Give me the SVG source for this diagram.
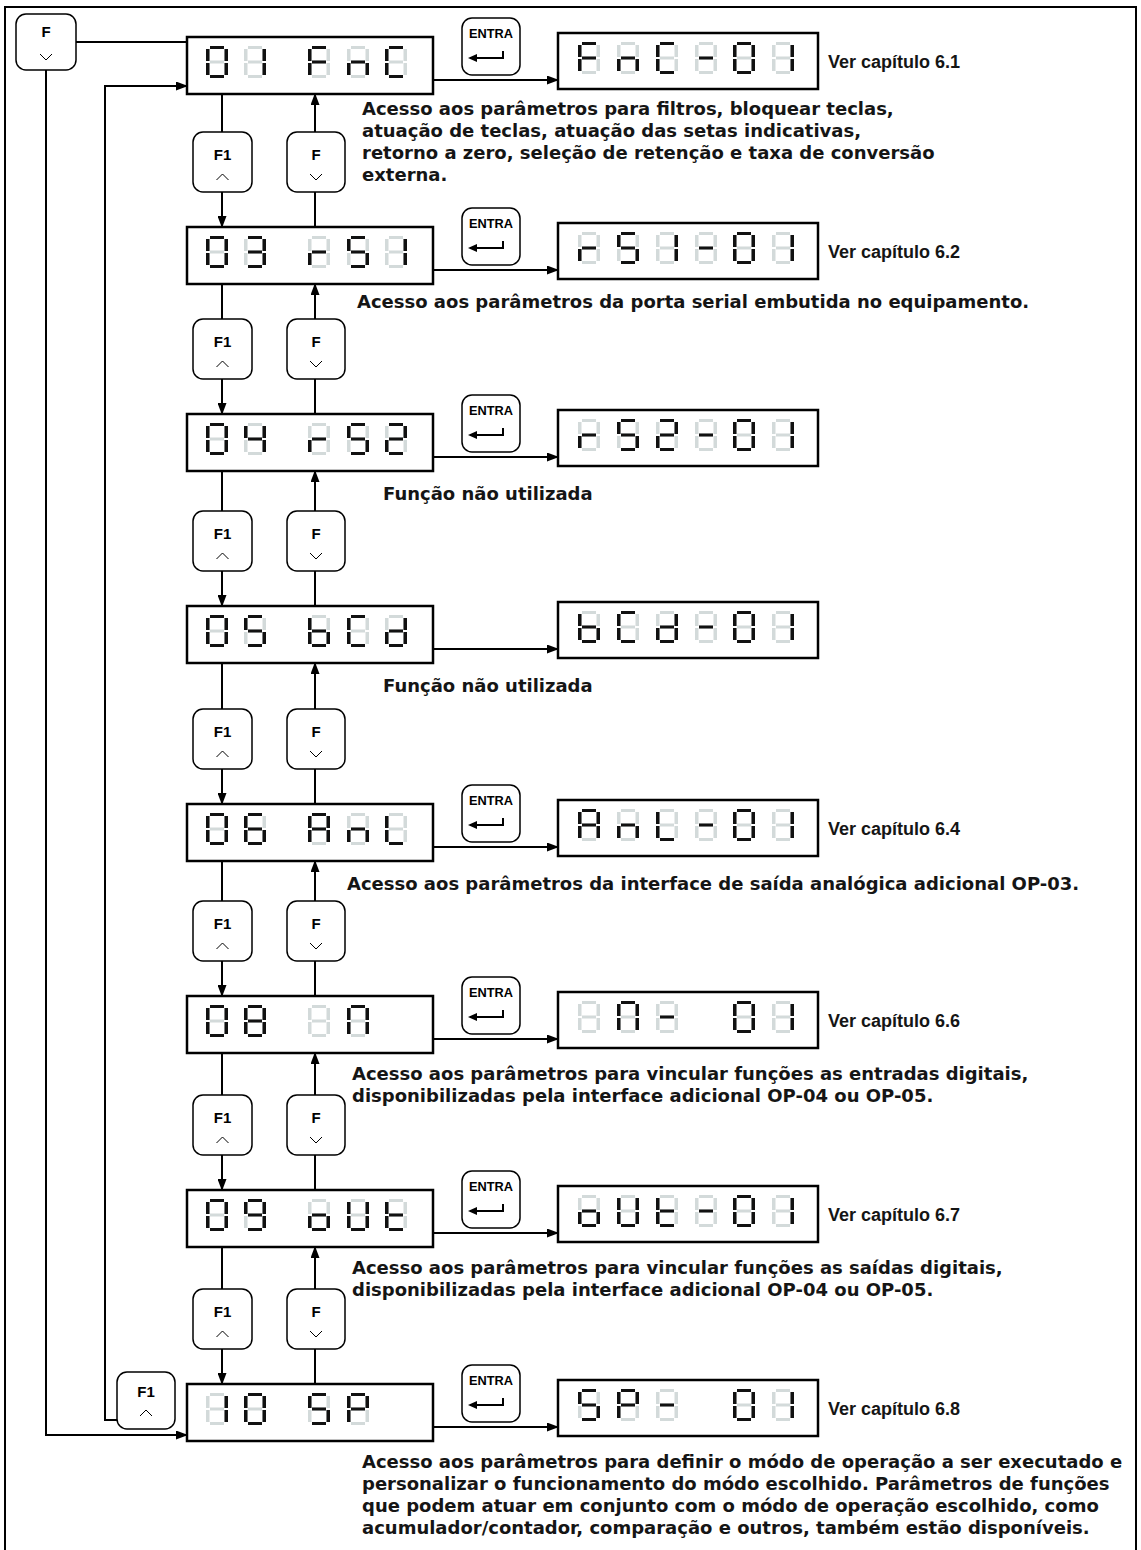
<svg xmlns="http://www.w3.org/2000/svg" width="1141" height="1550" viewBox="0 0 1141 1550">
<style>
.bx{fill:#fff;stroke:#000;stroke-width:2.5}
.btn{fill:#fff;stroke:#000;stroke-width:1.5}
.ln{fill:none;stroke:#000;stroke-width:2}
.chev{fill:none;stroke:#000;stroke-width:1}
.t{font-family:"DejaVu Sans","Liberation Sans",sans-serif;font-weight:bold;font-size:18px;fill:#151515}
.v{font-family:"Liberation Sans",Arial,sans-serif;font-weight:bold;font-size:18px;fill:#151515}
.bt{font-family:"Liberation Sans",Arial,sans-serif;font-weight:bold;font-size:15px;fill:#000;text-anchor:middle}
.en{font-family:"Liberation Sans",Arial,sans-serif;font-weight:bold;font-size:12px;fill:#000}
.off{fill:#d3dada}
.on{fill:#111}
</style>
<defs>
<marker id="ah" markerUnits="userSpaceOnUse" markerWidth="12" markerHeight="9" refX="11" refY="4.5" orient="auto"><path d="M0,0 L12,4.5 L0,9 z" fill="#000"/></marker>
<rect id="sa" x="4" y="0" width="14" height="3"/>
<rect id="sb" x="18.5" y="3" width="3.5" height="12"/>
<rect id="sc" x="18.5" y="17" width="3.5" height="12"/>
<rect id="sd" x="4" y="29" width="14" height="3"/>
<rect id="se" x="0" y="17" width="3.5" height="12"/>
<rect id="sf" x="0" y="3" width="3.5" height="12"/>
<rect id="sg" x="4" y="14.5" width="14" height="3"/>
<g id="base" class="off"><use href="#sa"/><use href="#sb"/><use href="#sc"/><use href="#sd"/><use href="#se"/><use href="#sf"/><use href="#sg"/></g>
<g id="k0"><use href="#base"/><g class="on"><use href="#sa"/><use href="#sb"/><use href="#sc"/><use href="#sd"/><use href="#se"/><use href="#sf"/></g></g>
<g id="k1"><use href="#base"/><g class="on"><use href="#sb"/><use href="#sc"/></g></g>
<g id="k2"><use href="#base"/><g class="on"><use href="#sa"/><use href="#sb"/><use href="#sg"/><use href="#se"/><use href="#sd"/></g></g>
<g id="k3"><use href="#base"/><g class="on"><use href="#sa"/><use href="#sb"/><use href="#sg"/><use href="#sc"/><use href="#sd"/></g></g>
<g id="k4"><use href="#base"/><g class="on"><use href="#sf"/><use href="#sg"/><use href="#sb"/><use href="#sc"/></g></g>
<g id="k5"><use href="#base"/><g class="on"><use href="#sa"/><use href="#sf"/><use href="#sg"/><use href="#sc"/><use href="#sd"/></g></g>
<g id="k6"><use href="#base"/><g class="on"><use href="#sa"/><use href="#sf"/><use href="#sg"/><use href="#se"/><use href="#sd"/><use href="#sc"/></g></g>
<g id="k8"><use href="#base"/><g class="on"><use href="#sa"/><use href="#sb"/><use href="#sc"/><use href="#sd"/><use href="#se"/><use href="#sf"/><use href="#sg"/></g></g>
<g id="k9"><use href="#base"/><g class="on"><use href="#sa"/><use href="#sb"/><use href="#sc"/><use href="#sd"/><use href="#sf"/><use href="#sg"/></g></g>
<g id="kF"><use href="#base"/><g class="on"><use href="#sa"/><use href="#se"/><use href="#sf"/><use href="#sg"/></g></g>
<g id="kn"><use href="#base"/><g class="on"><use href="#sc"/><use href="#se"/><use href="#sg"/></g></g>
<g id="kC"><use href="#base"/><g class="on"><use href="#sa"/><use href="#sd"/><use href="#se"/><use href="#sf"/></g></g>
<g id="km"><use href="#base"/><g class="on"><use href="#sg"/></g></g>
<g id="kr"><use href="#base"/><g class="on"><use href="#se"/><use href="#sg"/></g></g>
<g id="kb"><use href="#base"/><g class="on"><use href="#sc"/><use href="#sd"/><use href="#se"/><use href="#sf"/><use href="#sg"/></g></g>
<g id="kd"><use href="#base"/><g class="on"><use href="#sb"/><use href="#sc"/><use href="#sd"/><use href="#se"/><use href="#sg"/></g></g>
<g id="kA"><use href="#base"/><g class="on"><use href="#sa"/><use href="#sb"/><use href="#sc"/><use href="#se"/><use href="#sf"/><use href="#sg"/></g></g>
<g id="kL"><use href="#base"/><g class="on"><use href="#sd"/><use href="#se"/><use href="#sf"/></g></g>
<g id="ko"><use href="#base"/><g class="on"><use href="#sc"/><use href="#sd"/><use href="#se"/><use href="#sg"/></g></g>
<g id="kU"><use href="#base"/><g class="on"><use href="#sb"/><use href="#sc"/><use href="#sd"/><use href="#se"/><use href="#sf"/></g></g>
<g id="kt"><use href="#base"/><g class="on"><use href="#sd"/><use href="#se"/><use href="#sf"/><use href="#sg"/></g></g>
<g id="kP"><use href="#base"/><g class="on"><use href="#sa"/><use href="#sb"/><use href="#se"/><use href="#sf"/><use href="#sg"/></g></g>
<g id="kI"><use href="#base"/></g>
<g id="kN"><use href="#base"/><g class="on"><use href="#sa"/><use href="#sb"/><use href="#sc"/><use href="#se"/><use href="#sf"/></g></g>
<g id="kS"><use href="#k5"/></g>
<g id="bF"><rect class="btn" x="0" y="0" width="58" height="60" rx="10"/><text class="bt" x="29" y="28">F</text><polyline class="chev" points="23,42 29,48 35,42"/></g>
<g id="bF1"><rect class="btn" x="0" y="0" width="59" height="60" rx="10"/><text class="bt" x="29.5" y="28">F1</text><polyline class="chev" points="23.5,48 29.5,42 35.5,48"/></g>
<g id="bEN"><rect class="btn" x="0" y="0" width="58" height="57" rx="10"/><text class="en" x="7" y="20" textLength="44" lengthAdjust="spacingAndGlyphs">ENTRA</text><path d="M8,40 H41 V33" fill="none" stroke="#000" stroke-width="2"/><path d="M6,40 L15,36 L15,44 z" fill="#000"/></g>
</defs>
<rect x="5" y="7" width="1131" height="1560" fill="#fff" stroke="#000" stroke-width="2"/>

<g id="connectors">
<path class="ln" d="M76,42 H187"/>
<path class="ln" d="M46,70 V1435 H187" marker-end="url(#ah)"/>
<path class="ln" d="M117,1420 H105 V86 H187" marker-end="url(#ah)"/>
<path class="ln" d="M433,80 H558" marker-end="url(#ah)"/>
<path class="ln" d="M433,270 H558" marker-end="url(#ah)"/>
<path class="ln" d="M433,457 H558" marker-end="url(#ah)"/>
<path class="ln" d="M433,649 H558" marker-end="url(#ah)"/>
<path class="ln" d="M433,847 H558" marker-end="url(#ah)"/>
<path class="ln" d="M433,1039 H558" marker-end="url(#ah)"/>
<path class="ln" d="M433,1233 H558" marker-end="url(#ah)"/>
<path class="ln" d="M433,1427 H558" marker-end="url(#ah)"/>
<path class="ln" d="M222,94 V132 M222,192 V227" marker-end="url(#ah)"/>
<path class="ln" d="M315,227 V192 M315,132 V94" marker-end="url(#ah)"/>
<path class="ln" d="M222,284 V319 M222,379 V414" marker-end="url(#ah)"/>
<path class="ln" d="M315,414 V379 M315,319 V284" marker-end="url(#ah)"/>
<path class="ln" d="M222,471 V511 M222,571 V606" marker-end="url(#ah)"/>
<path class="ln" d="M315,606 V571 M315,511 V471" marker-end="url(#ah)"/>
<path class="ln" d="M222,663 V709 M222,769 V804" marker-end="url(#ah)"/>
<path class="ln" d="M315,804 V769 M315,709 V663" marker-end="url(#ah)"/>
<path class="ln" d="M222,861 V901 M222,961 V996" marker-end="url(#ah)"/>
<path class="ln" d="M315,996 V961 M315,901 V861" marker-end="url(#ah)"/>
<path class="ln" d="M222,1053 V1095 M222,1155 V1190" marker-end="url(#ah)"/>
<path class="ln" d="M315,1190 V1155 M315,1095 V1053" marker-end="url(#ah)"/>
<path class="ln" d="M222,1247 V1289 M222,1349 V1384" marker-end="url(#ah)"/>
<path class="ln" d="M315,1384 V1349 M315,1289 V1247" marker-end="url(#ah)"/>
</g>

<g id="key-F-top"><rect class="btn" x="16" y="14" width="60" height="56" rx="10"/><text class="bt" x="46" y="37">F</text><polyline class="chev" points="40,54 46,60 52,54"/></g>
<g id="key-F1-bottom"><rect class="btn" x="117" y="1372" width="58" height="57" rx="10"/><text class="bt" x="146" y="1397">F1</text><polyline class="chev" points="140,1416 146,1410 152,1416"/></g>

<g id="keys">
<use href="#bF1" x="193" y="132"/><use href="#bF" x="287" y="132"/>
<use href="#bF1" x="193" y="319"/><use href="#bF" x="287" y="319"/>
<use href="#bF1" x="193" y="511"/><use href="#bF" x="287" y="511"/>
<use href="#bF1" x="193" y="709"/><use href="#bF" x="287" y="709"/>
<use href="#bF1" x="193" y="901"/><use href="#bF" x="287" y="901"/>
<use href="#bF1" x="193" y="1095"/><use href="#bF" x="287" y="1095"/>
<use href="#bF1" x="193" y="1289"/><use href="#bF" x="287" y="1289"/>
<use href="#bEN" x="462" y="18"/>
<use href="#bEN" x="462" y="208"/>
<use href="#bEN" x="462" y="395"/>
<use href="#bEN" x="462" y="785"/>
<use href="#bEN" x="462" y="977"/>
<use href="#bEN" x="462" y="1171"/>
<use href="#bEN" x="462" y="1365"/>
</g>

<g id="row1">
<rect class="bx" x="187" y="37" width="246" height="57"/>
<use href="#k0" x="206" y="46"/><use href="#k1" x="244" y="46"/><use href="#kF" x="308" y="46"/><use href="#kn" x="347" y="46"/><use href="#kC" x="385" y="46"/>
<rect class="bx" x="558" y="33" width="260" height="56"/>
<use href="#kF" x="578" y="42"/><use href="#kn" x="617" y="42"/><use href="#kC" x="656" y="42"/><use href="#km" x="695" y="42"/><use href="#k0" x="733" y="42"/><use href="#k1" x="772" y="42"/>
<text class="v" x="828" y="68">Ver capítulo 6.1</text>
<text class="t" x="362" y="115">Acesso aos parâmetros para filtros, bloquear teclas,</text>
<text class="t" x="362" y="137">atuação de teclas, atuação das setas indicativas,</text>
<text class="t" x="362" y="159">retorno a zero, seleção de retenção e taxa de conversão</text>
<text class="t" x="362" y="181">externa.</text>
</g>

<g id="row2">
<rect class="bx" x="187" y="227" width="246" height="57"/>
<use href="#k0" x="206" y="236"/><use href="#k3" x="244" y="236"/><use href="#kr" x="308" y="236"/><use href="#kS" x="347" y="236"/><use href="#k1" x="385" y="236"/>
<rect class="bx" x="558" y="223" width="260" height="56"/>
<use href="#kr" x="578" y="232"/><use href="#kS" x="617" y="232"/><use href="#k1" x="656" y="232"/><use href="#km" x="695" y="232"/><use href="#k0" x="733" y="232"/><use href="#k1" x="772" y="232"/>
<text class="v" x="828" y="258">Ver capítulo 6.2</text>
<text class="t" x="357" y="308">Acesso aos parâmetros da porta serial embutida no equipamento.</text>
</g>

<g id="row3">
<rect class="bx" x="187" y="414" width="246" height="57"/>
<use href="#k0" x="206" y="423"/><use href="#k4" x="244" y="423"/><use href="#kr" x="308" y="423"/><use href="#kS" x="347" y="423"/><use href="#k2" x="385" y="423"/>
<rect class="bx" x="558" y="410" width="260" height="56"/>
<use href="#kr" x="578" y="419"/><use href="#kS" x="617" y="419"/><use href="#k2" x="656" y="419"/><use href="#km" x="695" y="419"/><use href="#k0" x="733" y="419"/><use href="#k1" x="772" y="419"/>
<text class="t" x="383" y="500">Função não utilizada</text>
</g>

<g id="row4">
<rect class="bx" x="187" y="606" width="246" height="57"/>
<use href="#k0" x="206" y="615"/><use href="#k5" x="244" y="615"/><use href="#kb" x="308" y="615"/><use href="#kC" x="347" y="615"/><use href="#kd" x="385" y="615"/>
<rect class="bx" x="558" y="602" width="260" height="56"/>
<use href="#kb" x="578" y="611"/><use href="#kC" x="617" y="611"/><use href="#kd" x="656" y="611"/><use href="#km" x="695" y="611"/><use href="#k0" x="733" y="611"/><use href="#k1" x="772" y="611"/>
<text class="t" x="383" y="692">Função não utilizada</text>
</g>

<g id="row5">
<rect class="bx" x="187" y="804" width="246" height="57"/>
<use href="#k0" x="206" y="813"/><use href="#k6" x="244" y="813"/><use href="#kA" x="308" y="813"/><use href="#kn" x="347" y="813"/><use href="#kL" x="385" y="813"/>
<rect class="bx" x="558" y="800" width="260" height="56"/>
<use href="#kA" x="578" y="809"/><use href="#kn" x="617" y="809"/><use href="#kL" x="656" y="809"/><use href="#km" x="695" y="809"/><use href="#k0" x="733" y="809"/><use href="#k1" x="772" y="809"/>
<text class="v" x="828" y="835">Ver capítulo 6.4</text>
<text class="t" x="347" y="890">Acesso aos parâmetros da interface de saída analógica adicional OP-03.</text>
</g>

<g id="row6">
<rect class="bx" x="187" y="996" width="246" height="57"/>
<use href="#k0" x="206" y="1005"/><use href="#k8" x="244" y="1005"/><use href="#kI" x="308" y="1005"/><use href="#kN" x="347" y="1005"/>
<rect class="bx" x="558" y="992" width="260" height="56"/>
<use href="#kI" x="578" y="1001"/><use href="#kN" x="617" y="1001"/><use href="#km" x="656" y="1001"/><use href="#k0" x="733" y="1001"/><use href="#k1" x="772" y="1001"/>
<text class="v" x="828" y="1027">Ver capítulo 6.6</text>
<text class="t" x="352" y="1080">Acesso aos parâmetros para vincular funções as entradas digitais,</text>
<text class="t" x="352" y="1102">disponibilizadas pela interface adicional OP-04 ou OP-05.</text>
</g>

<g id="row7">
<rect class="bx" x="187" y="1190" width="246" height="57"/>
<use href="#k0" x="206" y="1199"/><use href="#k9" x="244" y="1199"/><use href="#ko" x="308" y="1199"/><use href="#kU" x="347" y="1199"/><use href="#kt" x="385" y="1199"/>
<rect class="bx" x="558" y="1186" width="260" height="56"/>
<use href="#ko" x="578" y="1195"/><use href="#kU" x="617" y="1195"/><use href="#kt" x="656" y="1195"/><use href="#km" x="695" y="1195"/><use href="#k0" x="733" y="1195"/><use href="#k1" x="772" y="1195"/>
<text class="v" x="828" y="1221">Ver capítulo 6.7</text>
<text class="t" x="352" y="1274">Acesso aos parâmetros para vincular funções as saídas digitais,</text>
<text class="t" x="352" y="1296">disponibilizadas pela interface adicional OP-04 ou OP-05.</text>
</g>

<g id="row8">
<rect class="bx" x="187" y="1384" width="246" height="57"/>
<use href="#k1" x="206" y="1393"/><use href="#k0" x="244" y="1393"/><use href="#kS" x="308" y="1393"/><use href="#kP" x="347" y="1393"/>
<rect class="bx" x="558" y="1380" width="260" height="56"/>
<use href="#kS" x="578" y="1389"/><use href="#kP" x="617" y="1389"/><use href="#km" x="656" y="1389"/><use href="#k0" x="733" y="1389"/><use href="#k1" x="772" y="1389"/>
<text class="v" x="828" y="1415">Ver capítulo 6.8</text>
<text class="t" x="362" y="1468">Acesso aos parâmetros para definir o módo de operação a ser executado e</text>
<text class="t" x="362" y="1490">personalizar o funcionamento do módo escolhido. Parâmetros de funções</text>
<text class="t" x="362" y="1512">que podem atuar em conjunto com o módo de operação escolhido, como</text>
<text class="t" x="362" y="1534">acumulador/contador, comparação e outros, também estão disponíveis.</text>
</g>
</svg>
